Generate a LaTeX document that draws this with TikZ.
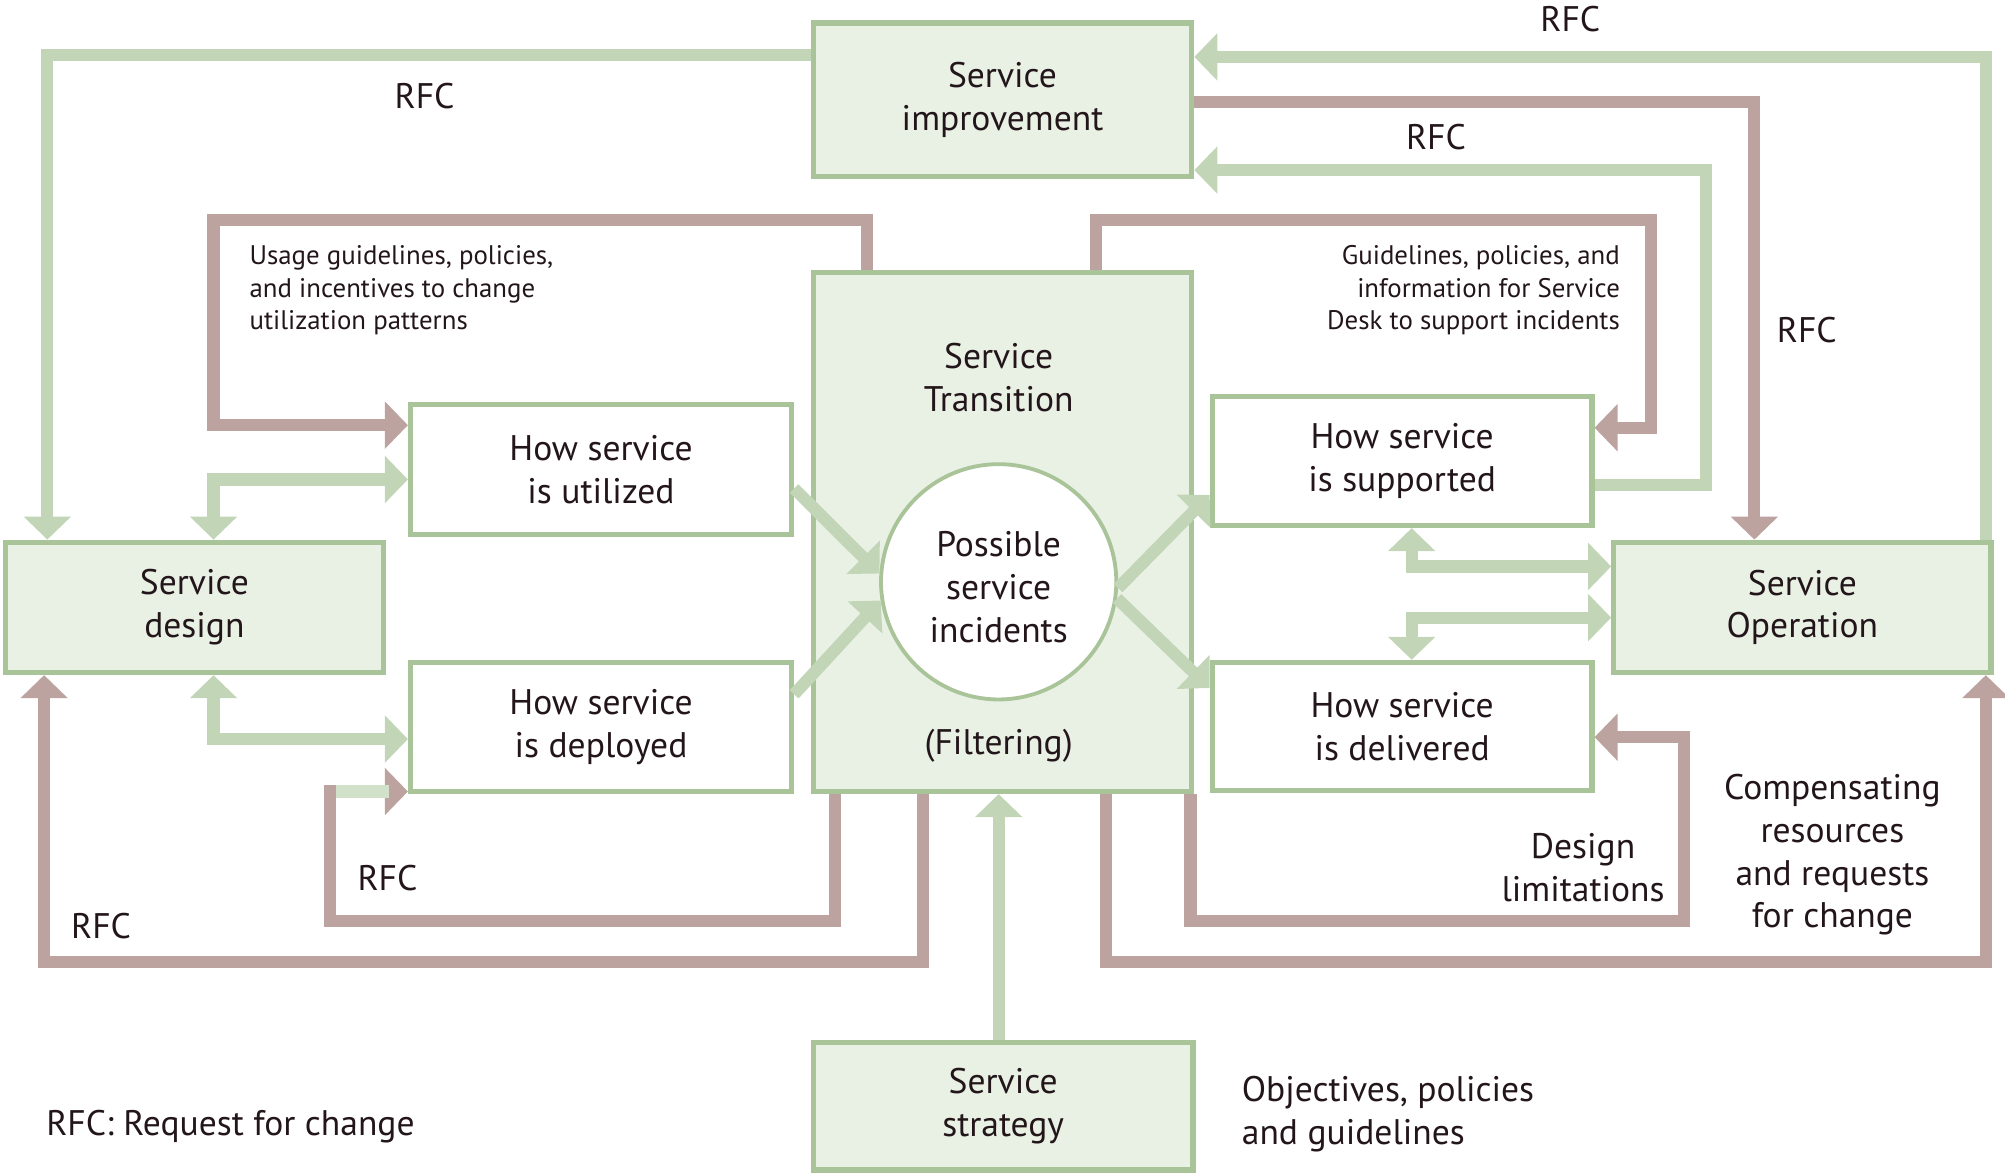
\documentclass[tikz,border=0pt]{standalone}
\usepackage{fontspec}
\setmainfont{PT Sans}
\usetikzlibrary{arrows.meta,calc}
\definecolor{cBorder}{RGB}{169,196,152}
\definecolor{cFill}{RGB}{233,241,229}
\definecolor{cGreen}{RGB}{194,214,183}
\definecolor{cBrown}{RGB}{188,163,159}
\definecolor{cPale}{RGB}{210,226,202}
\definecolor{cText}{RGB}{35,22,26}
\newcommand\bigtxt{\fontsize{27.8}{33.5}\selectfont}
\newcommand\smalltxt{\fontsize{21}{25.5}\selectfont}
\begin{document}
\begin{tikzpicture}[x=1pt,y=-1pt,
  >={Triangle[length=18pt,width=36pt]},
  box/.style={draw=cBorder, line width=4pt, fill=cFill, inner sep=0pt, align=center, text=cText, font=\bigtxt},
  wbox/.style={box, fill=white},
  lbl/.style={inner sep=0pt, text=cText, font=\bigtxt},
  slbl/.style={inner sep=0pt, text=cText, font=\smalltxt},
  gline/.style={draw=cGreen, line width=9.5pt},
  bline/.style={draw=cBrown, line width=9.5pt}]
\useasboundingbox (0,0) rectangle (1568,918);

% boxes
\node[box, minimum width=296pt, minimum height=120pt] (SI) at (784,78) {Service\\improvement};
\node[box, minimum width=296pt, minimum height=406pt] (ST) at (784,416) {};
\node[lbl, align=center] (STt) at (781,295) {Service\\Transition};
\node[circle, draw=cBorder, line width=3pt, fill=white, minimum size=184pt, inner sep=0pt] (circ) at (781,455) {};
\node[lbl, align=center] (circt) at (781,459) {Possible\\service\\incidents};
\node[lbl] (filt) at (781,583) {(Filtering)};
\node[box, minimum width=296pt, minimum height=102pt] (SD) at (152,475) {Service\\design};
\node[wbox, minimum width=298pt, minimum height=102pt] (HU) at (470,367) {How service\\is utilized};
\node[wbox, minimum width=298pt, minimum height=101pt] (HD) at (470,568.5) {How service\\is deployed};
\node[wbox, minimum width=297pt, minimum height=101pt] (HS) at (1096.5,360.5) {How service\\is supported};
\node[wbox, minimum width=297pt, minimum height=100pt] (HDl) at (1096.5,568) {How service\\is delivered};
\node[box, minimum width=295pt, minimum height=102pt] (SO) at (1409.5,475) {Service\\Operation};
\node[box, minimum width=297pt, minimum height=100pt] (SS) at (784.5,865) {Service\\strategy};

% green connectors
\draw[gline, ->] (SI.west |- 0,43) -| (37,0 |- SD.north);
\draw[gline, ->] (1553,0 |- SO.north) |- (SI.east |- 0,44.5);
\draw[gline, ->] (HS.east |- 0,379.5) -| (1334,133) -- (SI.east |- 0,133);
\draw[gline, <->] (167,0 |- SD.north) |- (HU.west |- 0,375);
\draw[gline, <->] (167,0 |- SD.south) |- (HD.west |- 0,578);
\draw[gline, ->] (781,0 |- SS.north) -- (781,0 |- ST.south);
\draw[gline, ->] (HU.east |- 0,382) -- (circ.176);
\draw[gline, ->] (HD.east |- 0,543) -- (circ.189);
\draw[gline, ->] (circ.-3) -- (HS.west |- 0,387);
\draw[gline, ->] (circ.-8) -- (HDl.west |- 0,538);
\draw[gline, <->] (1104,0 |- HS.south) |- (SO.west |- 0,443);
\draw[gline, <->] (1104,0 |- HDl.north) |- (SO.west |- 0,483);

% brown connectors
\draw[bline, ->] (SI.east |- 0,80) -| (1372,0 |- SO.north);
\draw[bline, ->] (678,0 |- ST.north) |- (167,172) |- (HU.west |- 0,332.5);
\draw[bline, ->] (857,0 |- ST.north) |- (1291,172) |- (HS.east |- 0,334.5);
\draw[bline, ->] (653,0 |- ST.south) |- (258,720) |- (HD.west |- 0,619);
\draw[draw=cPale, line width=9.5pt] (263,619) -- (304,619);
\draw[bline, ->] (721.5,0 |- ST.south) |- (34.5,752) -- (34.5,0 |- SD.south);
\draw[bline, ->] (931,0 |- ST.south) |- (1317,720) |- (HDl.east |- 0,576.5);
\draw[bline, ->] (865,0 |- ST.south) |- (1553,752) -- (1553,0 |- SO.south);

% labels
\node[lbl] (r1) at (332,75) {RFC};
\node[lbl] (r2) at (1228,15) {RFC};
\node[lbl] (r3) at (1123,107) {RFC};
\node[lbl] (r4) at (1413,258) {RFC};
\node[lbl] (r5) at (303,687) {RFC};
\node[lbl] (r6) at (79,724) {RFC};
\node[slbl, anchor=west, align=left] (usage) at (195,227) {Usage guidelines, policies,\\and incentives to change\\utilization patterns};
\node[slbl, anchor=east, align=right] (guide) at (1267,227) {Guidelines, policies, and\\information for Service\\Desk to support incidents\hspace{6pt}};
\node[lbl, align=center] (dlim) at (1238,678.5) {Design\\limitations};
\node[lbl, align=center] (comp) at (1433,668.5) {Compensating\\resources\\and requests\\for change};
\node[lbl, anchor=west, align=left] (obj) at (971,871) {Objectives, policies\\and guidelines};
\node[lbl, anchor=west] (legend) at (36,881) {RFC: Request for change};
\end{tikzpicture}
\end{document}
